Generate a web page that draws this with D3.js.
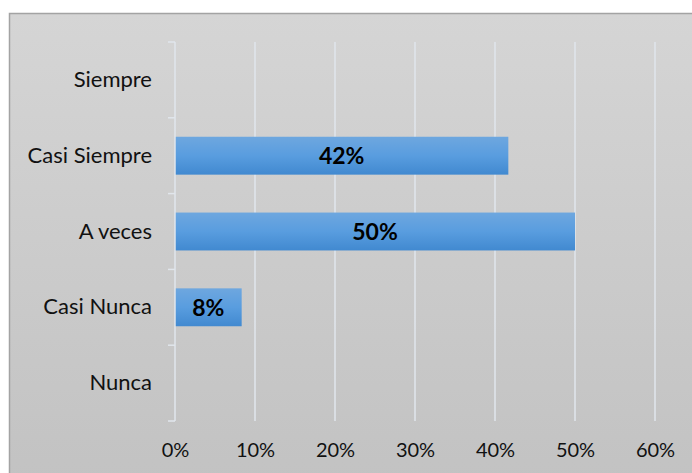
<!DOCTYPE html>
<html>
<head>
<meta charset="utf-8">
<script src="https://cdn.jsdelivr.net/npm/d3@7"></script>
<style>
  html, body { margin: 0; padding: 0; background: #fff; }
  svg { display: block; }
</style>
</head>
<body>
<svg id="chart" width="692" height="473"></svg>
<script>
// Response categories, top to bottom
const categories = ["Siempre", "Casi Siempre", "A veces", "Casi Nunca", "Nunca"];
// Share of responses per category (0 = no bar)
const shares = [0, 5 / 12, 6 / 12, 1 / 12, 0];
// Value axis ticks
const xTicks = [0, 0.1, 0.2, 0.3, 0.4, 0.5, 0.6];

const svg = d3.select("#chart");
const W = 692, H = 473;
const margin = { left: 175, right: 37, top: 42, bottom: 52 };

const defs = svg.append("defs");
const bg = defs.append("linearGradient").attr("id", "bg").attr("x1", 0).attr("y1", 0).attr("x2", 0).attr("y2", 1);
bg.append("stop").attr("offset", "0%").attr("stop-color", "#d5d5d5");
bg.append("stop").attr("offset", "100%").attr("stop-color", "#c2c2c2");

const barGrad = defs.append("linearGradient").attr("id", "bar").attr("x1", 0).attr("y1", 0).attr("x2", 0).attr("y2", 1);
barGrad.append("stop").attr("offset", "0%").attr("stop-color", "#6ea7df");
barGrad.append("stop").attr("offset", "50%").attr("stop-color", "#599ddf");
barGrad.append("stop").attr("offset", "100%").attr("stop-color", "#4189d0");

// Chart area with border
svg.append("rect")
  .attr("x", 9.5).attr("y", 13.5)
  .attr("width", W).attr("height", H)
  .attr("fill", "url(#bg)")
  .attr("stroke", "#a3a3a3").attr("stroke-width", 1.5);

const x = d3.scaleLinear().domain([0, 0.6]).range([margin.left, W - margin.right]);
const y = d3.scaleBand().domain(categories).range([margin.top, H - margin.bottom]).paddingInner(0.5).paddingOuter(0.25);

const font = "Lato, 'Open Sans', sans-serif";

// Vertical gridlines
svg.append("g").selectAll("line")
  .data(xTicks.slice(1))
  .join("line")
  .attr("x1", d => x(d)).attr("x2", d => x(d))
  .attr("y1", margin.top).attr("y2", H - margin.bottom)
  .attr("stroke", "#e1e6ec").attr("stroke-width", 1.5);

// Bars
const barData = categories.map((c, i) => ({ c, v: shares[i] })).filter(d => d.v > 0);
svg.append("g").selectAll("rect")
  .data(barData)
  .join("rect")
  .attr("x", x(0))
  .attr("y", d => y(d.c))
  .attr("width", d => x(d.v) - x(0))
  .attr("height", y.bandwidth())
  .attr("fill", "url(#bar)");

// Value labels
svg.append("g").selectAll("text")
  .data(barData)
  .join("text")
  .attr("x", d => (x(0) + x(d.v)) / 2)
  .attr("y", d => y(d.c) + y.bandwidth() / 2)
  .attr("dy", "0.36em")
  .attr("text-anchor", "middle")
  .attr("font-family", font).attr("font-weight", "bold").attr("font-size", 23)
  .attr("fill", "#000")
  .text(d => d3.format(".0%")(d.v));

// Category axis
const yAxis = d3.axisLeft(y).tickSize(0).tickPadding(23);
const gy = svg.append("g").attr("transform", `translate(${margin.left},0)`).call(yAxis);
gy.select(".domain").remove();
gy.selectAll("text").attr("font-family", font).attr("font-size", 22).attr("fill", "#111");

// Axis line with band-boundary ticks
const bounds = d3.range(categories.length + 1).map(i => margin.top + i * (H - margin.bottom - margin.top) / categories.length);
svg.append("line")
  .attr("x1", x(0)).attr("x2", x(0))
  .attr("y1", margin.top).attr("y2", H - margin.bottom)
  .attr("stroke", "#e1e6ec").attr("stroke-width", 1.5);
svg.append("g").selectAll("line")
  .data(bounds)
  .join("line")
  .attr("x1", x(0) - 7).attr("x2", x(0))
  .attr("y1", d => d).attr("y2", d => d)
  .attr("stroke", "#e1e6ec").attr("stroke-width", 1.5);

// Value axis labels
const xAxis = d3.axisBottom(x).tickValues(xTicks).tickFormat(d3.format(".0%")).tickSize(0).tickPadding(22);
const gx = svg.append("g").attr("transform", `translate(0,${H - margin.bottom})`).call(xAxis);
gx.select(".domain").remove();
gx.selectAll("text").attr("font-family", font).attr("font-size", 20).attr("fill", "#111");
</script>
</body>
</html>
